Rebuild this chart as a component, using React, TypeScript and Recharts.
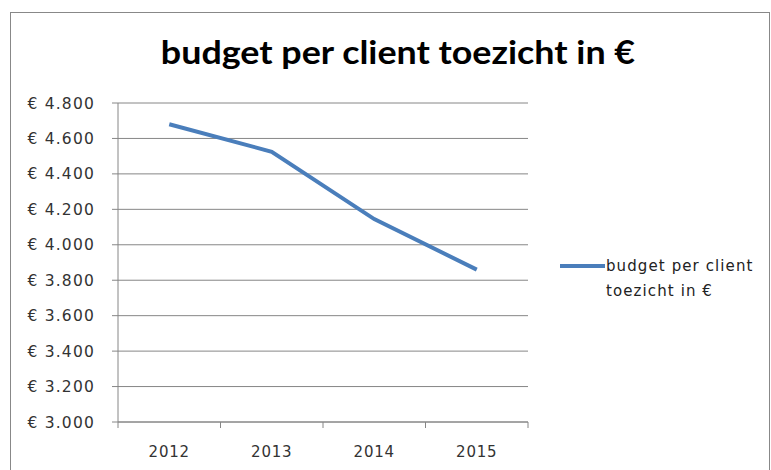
import React from 'react';
import { LineChart, Line, XAxis, YAxis, CartesianGrid } from 'recharts';

const years = ['2012', '2013', '2014', '2015'];
const budgetValues = [4680, 4525, 4145, 3860];
const yTicks = [3000, 3200, 3400, 3600, 3800, 4000, 4200, 4400, 4600, 4800];
const seriesName = 'budget per client toezicht in €';
const titleText = 'budget per client toezicht in €';

const data = years.map((y, i) => ({ year: y, value: budgetValues[i] }));

const fmt = (v: number) => '€ ' + v.toLocaleString('de-DE');

const AXIS = '#868686';
const LINE = '#4A7EBB';
const FONT = '"DejaVu Sans", sans-serif';

const XTick = (props: any) => {
  const { x, y, payload, index, visibleTicksCount } = props;
  const off = payload && typeof payload.offset === 'number' ? payload.offset : 0;
  const top = y - 8;
  return (
    <g>
      <line x1={x - off} x2={x - off} y1={top} y2={top + 6} stroke={AXIS} strokeWidth={1} />
      {index === visibleTicksCount - 1 && (
        <line x1={x + off} x2={x + off} y1={top} y2={top + 6} stroke={AXIS} strokeWidth={1} />
      )}
      <text x={x} y={y + 27} textAnchor="middle" fontFamily={FONT} fontSize={15} letterSpacing={0.8} fill="#333">
        {payload.value}
      </text>
    </g>
  );
};

export default function App() {
  return (
    <div style={{ position: 'absolute', left: 0, top: 0, width: 771, height: 470, background: '#fff', overflow: 'hidden' }}>
      <div style={{ position: 'absolute', left: 10, top: 12, width: 760, height: 470, border: '1px solid #888', boxSizing: 'border-box' }} />
      <div style={{ position: 'absolute', left: 0, top: 32, width: 796, textAlign: 'center', fontFamily: 'Lato, sans-serif', fontWeight: 700, fontSize: 32, color: '#000', transform: 'scaleX(1.12)', transformOrigin: '398px 0' }}>
        {titleText}
      </div>
      <div style={{ position: 'absolute', left: 0, top: 0 }}>
        <LineChart width={771} height={470} data={data} margin={{ top: 103, right: 243, bottom: 0, left: 0 }}>
          <CartesianGrid vertical={false} stroke={AXIS} strokeWidth={1} />
          <XAxis
            dataKey="year"
            scale="band"
            height={48}
            stroke={AXIS}
            tickLine={false}
            tick={<XTick />}
            interval={0}
          />
          <YAxis
            width={118}
            domain={[3000, 4800]}
            ticks={yTicks}
            tickFormatter={fmt}
            stroke={AXIS}
            tickSize={6}
            tickMargin={17}
            tick={{ fontFamily: FONT, fontSize: 15.5, fill: '#333', letterSpacing: 1.2 }}
            interval={0}
            allowDataOverflow
          />
          <Line
            type="linear"
            dataKey="value"
            name={seriesName}
            stroke={LINE}
            strokeWidth={4}
            dot={false}
            activeDot={false}
            isAnimationActive={false}
          />
        </LineChart>
      </div>
      <div style={{ position: 'absolute', left: 558, top: 254, display: 'flex', alignItems: 'flex-start', fontFamily: FONT, fontSize: 15, color: '#222', letterSpacing: 1.1 }}>
        <svg width={48} height={20} style={{ flex: 'none' }}>
          <line x1={2} x2={47} y1={12} y2={12} stroke={LINE} strokeWidth={4} />
        </svg>
        <div style={{ width: 170, lineHeight: '25px' }}>{seriesName}</div>
      </div>
    </div>
  );
}
